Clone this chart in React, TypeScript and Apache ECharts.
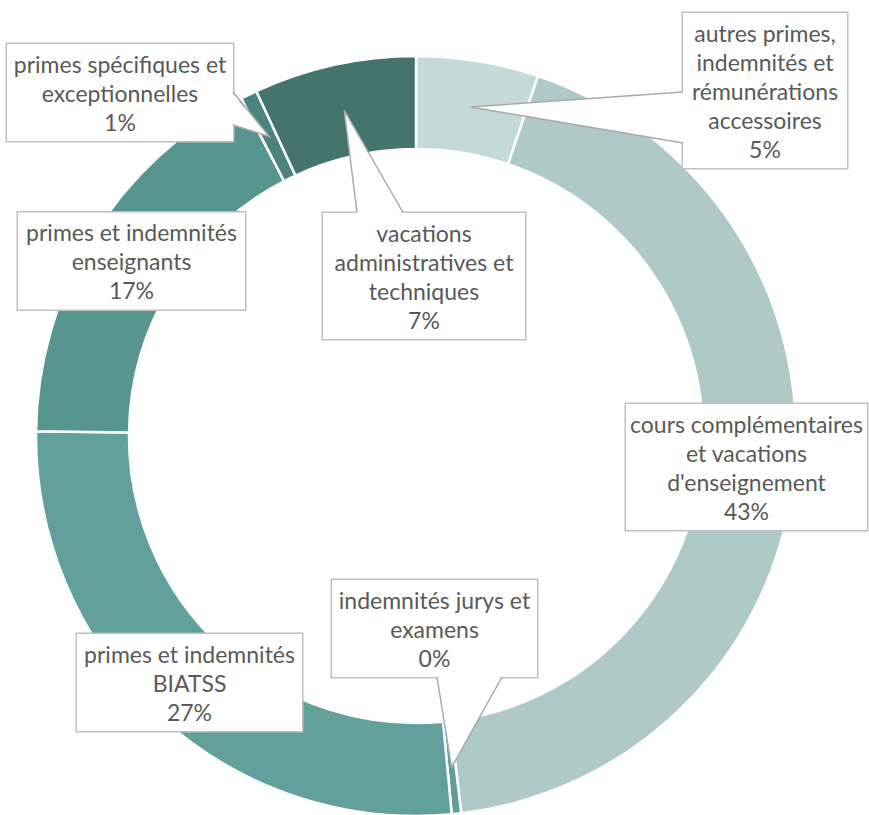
import React, { useEffect, useRef } from "react";
import * as echarts from "echarts";

// ---- data ----
const categories = [
  "autres primes,\nindemnités et\nrémunérations\naccessoires",
  "cours complémentaires\net vacations\nd'enseignement",
  "indemnités jurys et\nexamens",
  "primes et indemnités\nBIATSS",
  "primes et indemnités\nenseignants",
  "primes spécifiques et\nexceptionnelles",
  "vacations\nadministratives et\ntechniques",
];
const shares = [5.2, 42.9, 0.4, 26.7, 17.2, 0.7, 6.9];
const colors = ["#c4dad8", "#afc9c8", "#5e9e98", "#62a19b", "#57958f", "#4b847f", "#45736e"];

// ---- layout (positions / sizes only) ----
const CX = 416;
const CY = 436;
const R0 = 287;
const R1 = 380;
const labelBoxes = [
  { cx: 765, cy: 90.5, w: 164 },
  { cx: 746.5, cy: 467, w: 241 },
  { cx: 434.5, cy: 628.5, w: 205 },
  { cx: 189.5, cy: 682.5, w: 225 },
  { cx: 131.5, cy: 261, w: 227 },
  { cx: 120, cy: 92.5, w: 226 },
  { cx: 424, cy: 276, w: 202 },
];
const callouts = [
  { index: 0, a: [683, 92], b: [683, 143], inset: [2, 0] },
  { index: 2, a: [437, 677], b: [502, 677], inset: [0, -2] },
  { index: 5, a: [233, 92], b: [233, 125], inset: [-2, 0] },
  { index: 6, a: [357, 212.5], b: [403, 212.5], inset: [0, 2] },
];

function tipPoint(index: number): number[] {
  const total = shares.reduce((s, v) => s + v, 0);
  let start = 0;
  for (let i = 0; i < index; i++) start += shares[i];
  const mid = (start + shares[index] / 2) / total;
  const th = mid * Math.PI * 2;
  const rm = (R0 + R1) / 2;
  return [CX + rm * Math.sin(th), CY - rm * Math.cos(th)];
}

export default function App() {
  const ref = useRef<HTMLDivElement>(null);
  useEffect(() => {
    document.body.style.margin = "0";
    if (!ref.current) return;
    const chart = echarts.init(ref.current, null, { renderer: "svg" });
    const graphics: any[] = [];
    callouts.forEach((c) => {
      const t = tipPoint(c.index);
      graphics.push({
        type: "polygon",
        z: 100,
        silent: true,
        shape: {
          points: [
            t,
            [c.a[0] + c.inset[0], c.a[1] + c.inset[1]],
            [c.b[0] + c.inset[0], c.b[1] + c.inset[1]],
          ],
        },
        style: { fill: "#ffffff" },
      });
      graphics.push({
        type: "polyline",
        z: 101,
        silent: true,
        shape: { points: [c.a, t, c.b] },
        style: { stroke: "#a9a9a9", lineWidth: 1.5, fill: null },
      });
    });
    chart.setOption({
      animation: false,
      backgroundColor: "#ffffff",
      graphic: graphics,
      series: [
        {
          type: "pie",
          silent: true,
          center: [CX, CY],
          radius: [R0, R1],
          startAngle: 90,
          clockwise: true,
          avoidLabelOverlap: false,
          itemStyle: { borderColor: "#ffffff", borderWidth: 2.5 },
          label: {
            show: true,
            position: "outside",
            formatter: (p: any) => `${p.name}\n${Math.round(p.percent)}%`,
            color: "#595959",
            fontFamily: "Lato",
            fontSize: 23,
            lineHeight: 29,
            backgroundColor: "#ffffff",
            borderColor: "#bfbfbf",
            borderWidth: 1.5,
            padding: [5, 4],
            align: "center",
            overflow: "none",
            bleedMargin: -2000,
          },
          labelLine: { show: false },
          labelLayout: (params: any) => {
            const b = labelBoxes[params.dataIndex];
            return { x: b.cx, y: b.cy, align: "center", verticalAlign: "middle" };
          },
          data: categories.map((name, i) => ({
            name,
            value: shares[i],
            itemStyle: { color: colors[i] },
            label: { width: labelBoxes[i].w - 8 },
          })),
        },
      ],
    });
    return () => chart.dispose();
  }, []);
  return <div ref={ref} style={{ width: 869, height: 815 }} />;
}
